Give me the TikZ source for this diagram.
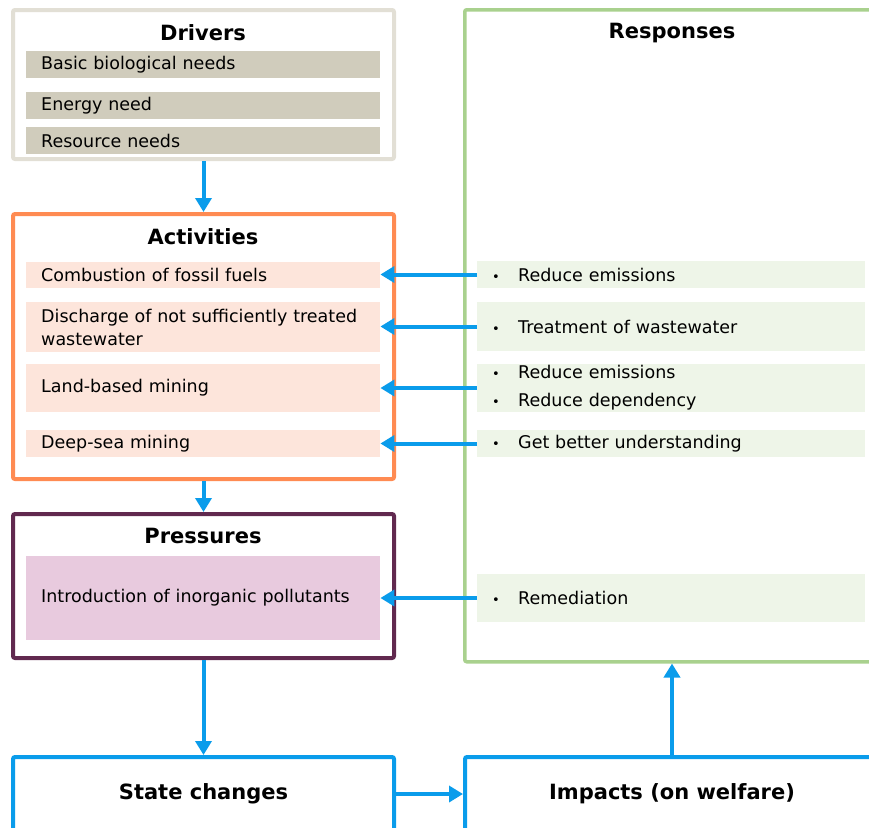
\documentclass[tikz,border=0pt]{standalone}
\usepackage{fontspec}
\setmainfont{DejaVu Sans}
\usetikzlibrary{positioning,shapes,arrows.meta}
\definecolor{drvline}{HTML}{E2DFD5}
\definecolor{drvfill}{HTML}{D0CCBC}
\definecolor{actline}{HTML}{FF8B52}
\definecolor{actfill}{HTML}{FDE5DB}
\definecolor{prsline}{HTML}{61294F}
\definecolor{prsfill}{HTML}{E8CADE}
\definecolor{rspline}{HTML}{A9D18E}
\definecolor{rspfill}{HTML}{EEF5E8}
\definecolor{flowblue}{HTML}{0A9CEB}
\newcommand*{\rbullet}{\makebox[26pt][l]{\fontsize{13}{13}\selectfont\textbullet}}

\begin{document}
\begin{tikzpicture}[x=1pt,y=-1pt]
	\tikzstyle{frame}=[rectangle, line width=4pt, rounded corners=2pt, fill=white, anchor=north west,
	inner sep=0pt, font=\fontsize{21}{25}\selectfont\bfseries]
	\tikzstyle{title}=[font=\fontsize{21}{25}\selectfont\bfseries, text=black]
	\tikzstyle{item}=[rectangle, anchor=west, inner xsep=15pt, inner ysep=0pt, text width=324pt,
	align=left, font=\fontsize{17.5}{23}\selectfont]
	\tikzstyle{resp}=[item, fill=rspfill, inner xsep=15pt, text width=358pt]
	\tikzstyle{line}=[-{Triangle[length=14pt,width=16pt]}, line width=4pt, draw=flowblue]

	\useasboundingbox (0,0) rectangle (869,827);
	\clip (0,0) rectangle (869,827);

	% the five DPSIR boxes
	\node (responses) [frame, draw=rspline, line width=3.5pt, minimum width=415pt, minimum height=652pt] at (463,8) {};
	\node (drivers) [frame, draw=drvline, minimum width=381pt, minimum height=149pt] at (11,8) {};
	\node (activities) [frame, draw=actline, minimum width=381pt, minimum height=265pt] at (11,212) {};
	\node (pressures) [frame, draw=prsline, minimum width=381pt, minimum height=144pt] at (11,512) {};
	\node (state) [frame, draw=flowblue, minimum width=381pt, minimum height=74pt] at (11,755) {State changes};
	\node (impacts) [frame, draw=flowblue, minimum width=414pt, minimum height=74pt] at (463,755) {Impacts (on welfare)};

	\node (drvtitle) [title] at (203,33) {Drivers};
	\node (acttitle) [title] at (203,237) {Activities};
	\node (prstitle) [title] at (203,536) {Pressures};
	\node (rsptitle) [title] at (672,33) {Responses};

	% drivers
	\node (drv1) [item, fill=drvfill, minimum height=27pt] at (26,64.5) {Basic biological needs};
	\node (drv2) [item, fill=drvfill, minimum height=27pt] at (26,105.5) {Energy need};
	\node (drv3) [item, fill=drvfill, minimum height=27pt] at (26,140.5) {Resource needs};

	% activities
	\node (act1) [item, fill=actfill, minimum height=26pt] at (26,275) {Combustion of fossil fuels};
	\node (act2) [item, fill=actfill, minimum height=50pt] at (26,327) {Discharge of not sufficiently treated\\wastewater};
	\node (act3) [item, fill=actfill, minimum height=48pt] at (26,388) {Land-based mining};
	\node (act4) [item, fill=actfill, minimum height=27pt] at (26,443.5) {Deep-sea mining};

	% pressures
	\node (prs1) [item, fill=prsfill, minimum height=84pt] at (26,598) {Introduction of inorganic pollutants};

	% responses
	\node (rsp1) [resp, minimum height=27pt] at (477,274.5) {\rbullet Reduce emissions};
	\node (rsp2) [resp, minimum height=49pt] at (477,326.5) {\rbullet Treatment of wastewater};
	\node (rsp3) [resp, minimum height=48pt] at (477,388) {\rbullet Reduce emissions\\[5pt]\rbullet Reduce dependency};
	\node (rsp4) [resp, minimum height=27pt] at (477,443.5) {\rbullet Get better understanding};
	\node (rsp5) [resp, minimum height=48pt] at (477,598) {\rbullet Remediation};

	\draw[line] (drivers.south) -- (drivers.south |- activities.north);
	\draw[line] (activities.south) -- (activities.south |- pressures.north);
	\draw[line] (pressures.south) -- (pressures.south |- state.north);
	\draw[line] (state.east) -- (impacts.west);
	\draw[line] (impacts.north) -- (impacts.north |- responses.south);
	\draw[line] (rsp1.west) -- (rsp1.west -| act1.east);
	\draw[line] (rsp2.west) -- (rsp2.west -| act2.east);
	\draw[line] (rsp3.west) -- (rsp3.west -| act3.east);
	\draw[line] (rsp4.west) -- (rsp4.west -| act4.east);
	\draw[line] (rsp5.west) -- (rsp5.west -| prs1.east);
\end{tikzpicture}
\end{document}
